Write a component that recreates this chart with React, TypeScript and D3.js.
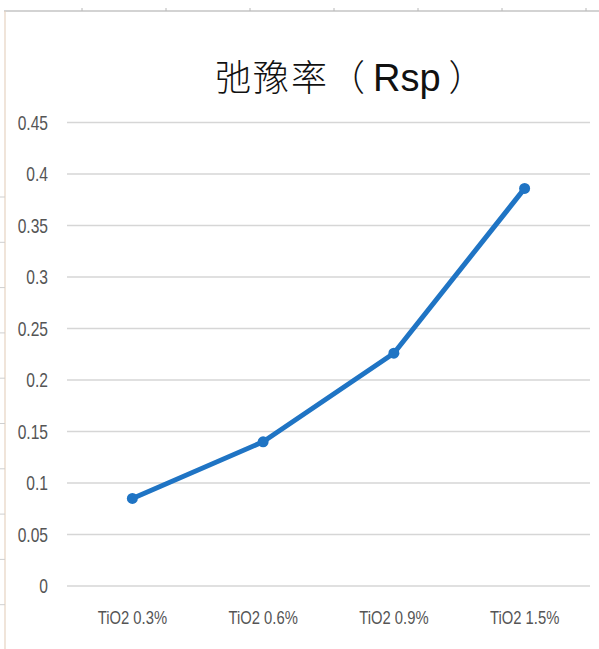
import React from "react";
import * as d3 from "d3";

const categories = ["TiO2 0.3%", "TiO2 0.6%", "TiO2 0.9%", "TiO2 1.5%"];
const rspValues = [0.085, 0.14, 0.226, 0.386];
const yTicks = [0, 0.05, 0.1, 0.15, 0.2, 0.25, 0.3, 0.35, 0.4, 0.45];

const W = 599;
const H = 649;
const plot = { left: 67, right: 590, top: 122.5, bottom: 586 };

const sans = "'Liberation Sans', Arial, sans-serif";
const cjk = "'Noto Sans CJK SC', 'Liberation Sans', sans-serif";

// condensed label: draw at origin then squeeze horizontally
function NarrowText({
  x,
  y,
  anchor,
  size,
  squeeze,
  children,
}: {
  x: number;
  y: number;
  anchor: "start" | "middle" | "end";
  size: number;
  squeeze: number;
  children: React.ReactNode;
}) {
  return (
    <text
      transform={`translate(${x},${y}) scale(${squeeze},1)`}
      textAnchor={anchor}
      fontSize={size}
      fill="#555"
      fontFamily={sans}
    >
      {children}
    </text>
  );
}

export default function App() {
  const x = d3
    .scaleBand<string>()
    .domain(categories)
    .range([plot.left, plot.right]);
  const y = d3.scaleLinear().domain([0, 0.45]).range([plot.bottom, plot.top]);

  const cx = (c: string) => (x(c) ?? 0) + x.bandwidth() / 2;

  const line = d3
    .line<number>()
    .x((_, i) => cx(categories[i]))
    .y((v) => y(v));

  // frame ruler marks along the top and left edges
  const topMarks = d3.range(82, W, 84);
  const leftMarks = d3.range(197, H, 45.3);

  return (
    <svg
      width={W}
      height={H}
      style={{ position: "absolute", left: 0, top: 0, background: "#fff" }}
    >
      <rect x={0} y={0} width={W} height={H} fill="#fff" />
      {/* frame edges */}
      <line x1={4} x2={W} y1={11} y2={11} stroke="#a8a8a8" strokeWidth={1.2} />
      {topMarks.map((m) => (
        <line key={m} x1={m} x2={m} y1={8} y2={11} stroke="#b8b8b8" strokeWidth={1} />
      ))}
      <line x1={5} x2={5} y1={11} y2={H} stroke="#e6d3c2" strokeWidth={1.2} />
      {leftMarks.map((m) => (
        <line key={m} x1={0} x2={5} y1={m} y2={m} stroke="#cfcfcf" strokeWidth={1} />
      ))}

      <text x={215} y={91} fontSize={36} fill="#111" fontFamily={cjk} fontWeight={300}>
        <tspan letterSpacing={2}>弛豫率</tspan>
        <tspan>（</tspan>
        <tspan fontFamily={sans} fontSize={38} dx={8}>
          Rsp
        </tspan>
        <tspan dx={8}>）</tspan>
      </text>

      {yTicks.map((t) => (
        <g key={t}>
          <line
            x1={plot.left}
            x2={plot.right}
            y1={y(t)}
            y2={y(t)}
            stroke="#d6d6d6"
            strokeWidth={1.6}
          />
          <NarrowText x={48} y={y(t) + 7} anchor="end" size={20} squeeze={0.78}>
            {String(t)}
          </NarrowText>
        </g>
      ))}

      {categories.map((c) => (
        <NarrowText key={c} x={cx(c)} y={624} anchor="middle" size={18.5} squeeze={0.8}>
          {c}
        </NarrowText>
      ))}

      <path
        d={line(rspValues) ?? ""}
        fill="none"
        stroke="#1f74c4"
        strokeWidth={5}
        strokeLinejoin="round"
        strokeLinecap="round"
      />
      {rspValues.map((v, i) => (
        <circle key={i} cx={cx(categories[i])} cy={y(v)} r={5.5} fill="#1f74c4" />
      ))}
    </svg>
  );
}
